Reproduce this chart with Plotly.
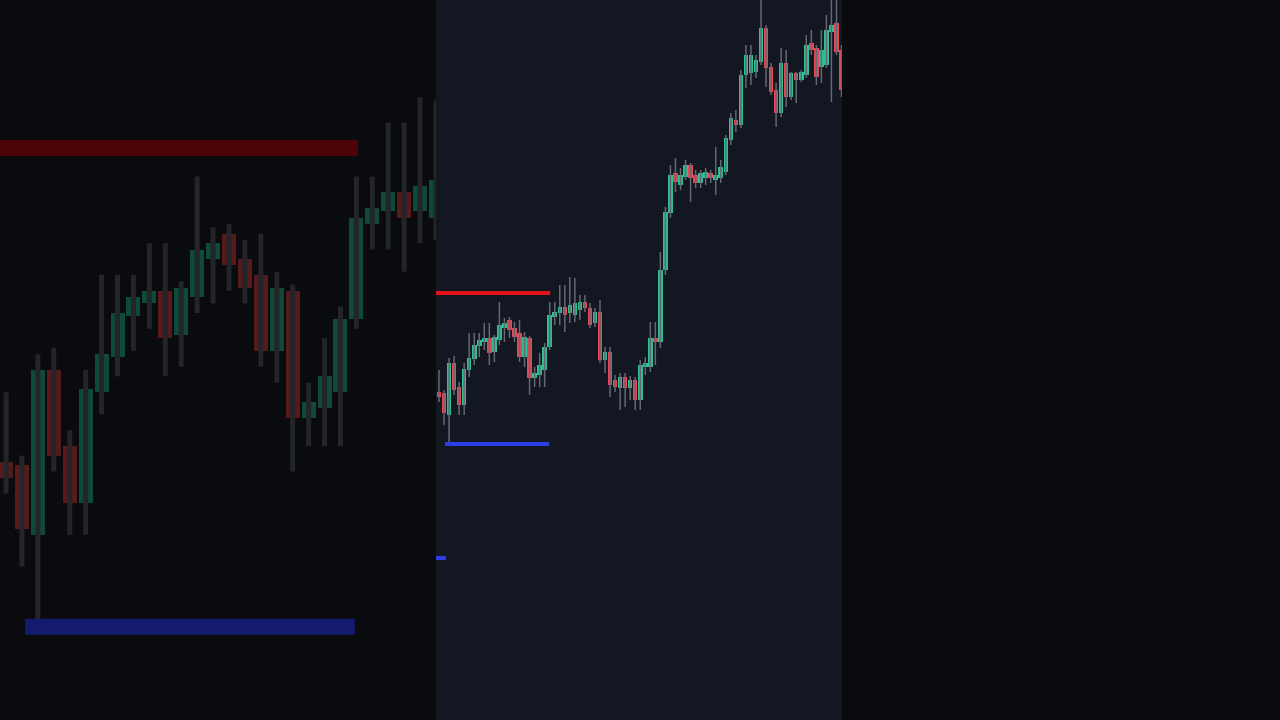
import plotly.graph_objects as go

# ---- data (price units, arbitrary scale) ----
opens = [328, 327, 305, 357, 333, 315, 350, 361, 374, 378, 382, 368, 380, 392, 400, 392, 387, 363, 382, 342,
         345, 350, 373, 403, 407, 413, 407, 405, 410, 418, 412, 397, 408, 360, 368, 340, 332, 343, 332, 340,
         320, 353, 353, 382, 378, 450, 507, 547, 535, 543, 555, 545, 537, 542, 547, 540, 542, 548, 580, 600,
         595, 645, 647, 648, 658, 692, 653, 630, 607, 657, 623, 647, 640, 645, 677, 672, 653, 655, 688, 697, 670]
highs = [350, 330, 362, 364, 338, 357, 387, 387, 387, 397, 397, 385, 418, 402, 403, 398, 400, 388, 384, 353,
         367, 377, 418, 418, 435, 435, 443, 442, 425, 425, 417, 412, 420, 373, 373, 345, 347, 347, 344, 343,
         360, 363, 398, 398, 468, 513, 555, 562, 552, 560, 557, 550, 550, 552, 550, 573, 560, 585, 607, 610,
         650, 675, 675, 665, 722, 695, 657, 637, 672, 670, 648, 648, 650, 685, 690, 675, 690, 705, 725, 725, 675]
lows = [318, 295, 278, 325, 305, 305, 343, 355, 363, 370, 355, 358, 375, 378, 382, 378, 358, 353, 325, 333,
        333, 333, 370, 395, 395, 388, 397, 398, 400, 408, 392, 393, 357, 347, 323, 328, 310, 313, 320, 310,
        310, 345, 348, 355, 372, 445, 502, 528, 530, 540, 518, 532, 532, 535, 537, 525, 537, 545, 575, 588,
        592, 632, 635, 642, 655, 633, 625, 593, 603, 613, 620, 617, 638, 642, 665, 635, 637, 652, 618, 665, 623]
closes = [323, 307, 357, 330, 315, 351, 362, 375, 380, 382, 367, 383, 395, 397, 390, 383, 363, 383, 342, 347,
          355, 373, 405, 408, 413, 405, 415, 417, 418, 412, 395, 408, 360, 368, 335, 333, 343, 332, 340, 320,
          355, 357, 382, 378, 450, 508, 545, 538, 545, 555, 542, 537, 547, 548, 542, 545, 553, 582, 602, 595,
          645, 665, 665, 660, 692, 652, 628, 607, 657, 623, 647, 640, 648, 675, 670, 643, 670, 690, 695, 668, 630]
bar_index = list(range(len(opens)))

# horizontal levels: price, first bar, last bar
level_prices = [427, 276, 162]
level_from = [-0.6, 1.2, -0.6]
level_to = [22.1, 21.9, 1.4]

# ---- styles ----
UP, DOWN, WICK = "#2fbf94", "#e84855", "#646872"
UP_BG, DOWN_BG, WICK_BG = "#0e4a37", "#561a1c", "#232529"
LEVEL_MAIN = ["#e3121b", "#2d3ee6", "#2d3ee6"]
LEVEL_BG = ["#4e0406", "#141b6e", "#141b6e"]

W, H = 1280, 720
LEFT_EDGE, RIGHT_EDGE = 436 / W, 842 / W


def add_candles(fig, xa, ya, up, down, wick, wick_w, body_w, min_body):
    wx, wy = [], []
    for i, lo, hi in zip(bar_index, lows, highs):
        wx += [i, i, None]
        wy += [lo, hi, None]
    fig.add_trace(go.Scatter(x=wx, y=wy, mode="lines", line=dict(color=wick, width=wick_w),
                             xaxis=xa, yaxis=ya, hoverinfo="skip", showlegend=False))
    base = [min(o, c) for o, c in zip(opens, closes)]
    height = [max(abs(c - o), min_body) for o, c in zip(opens, closes)]
    colors = [up if c >= o else down for o, c in zip(opens, closes)]
    fig.add_trace(go.Bar(x=bar_index, y=height, base=base, width=body_w,
                         marker=dict(color=colors, line=dict(width=0)),
                         xaxis=xa, yaxis=ya, hoverinfo="skip", showlegend=False))


def add_levels(fig, xa, ya, colors, width):
    for p, a, b, col in zip(level_prices, level_from, level_to, colors):
        fig.add_trace(go.Scatter(x=[a, b], y=[p, p], mode="lines", line=dict(color=col, width=width),
                                 xaxis=xa, yaxis=ya, hoverinfo="skip", showlegend=False))


fig = go.Figure()

# blurred, zoomed background copy (left)
add_candles(fig, "x2", "y2", UP_BG, DOWN_BG, WICK_BG, 5, 0.88, 1.5)
add_levels(fig, "x2", "y2", LEVEL_BG, 16)

# main chart (center)
add_candles(fig, "x", "y", UP, DOWN, WICK, 1.5, 0.9, 2.5)
add_levels(fig, "x", "y", LEVEL_MAIN, 4)

hidden = dict(visible=False, showgrid=False, zeroline=False, fixedrange=True)
fig.update_layout(
    width=W, height=H,
    margin=dict(l=0, r=0, t=0, b=0),
    paper_bgcolor="#0a0b0e",
    plot_bgcolor="rgba(0,0,0,0)",
    showlegend=False,
    hovermode=False,
    bargap=0,
    xaxis=dict(domain=[LEFT_EDGE, RIGHT_EDGE], range=[-0.6, 80.1], anchor="y", **hidden),
    yaxis=dict(domain=[0, 1], range=[0, 720], anchor="x", **hidden),
    xaxis2=dict(domain=[0, LEFT_EDGE], range=[-0.38, 27.0], anchor="y2", **hidden),
    yaxis2=dict(domain=[0, 1], range=[246.6, 473.7], anchor="x2", **hidden),
    shapes=[dict(type="rect", xref="paper", yref="paper", x0=LEFT_EDGE, x1=RIGHT_EDGE, y0=0, y1=1,
                 fillcolor="#131722", line=dict(width=0), layer="below")],
)

fig.write_html("out.html", config={"displayModeBar": False},
               post_script="document.body.style.margin='0';document.body.style.background='#0a0b0e';")
